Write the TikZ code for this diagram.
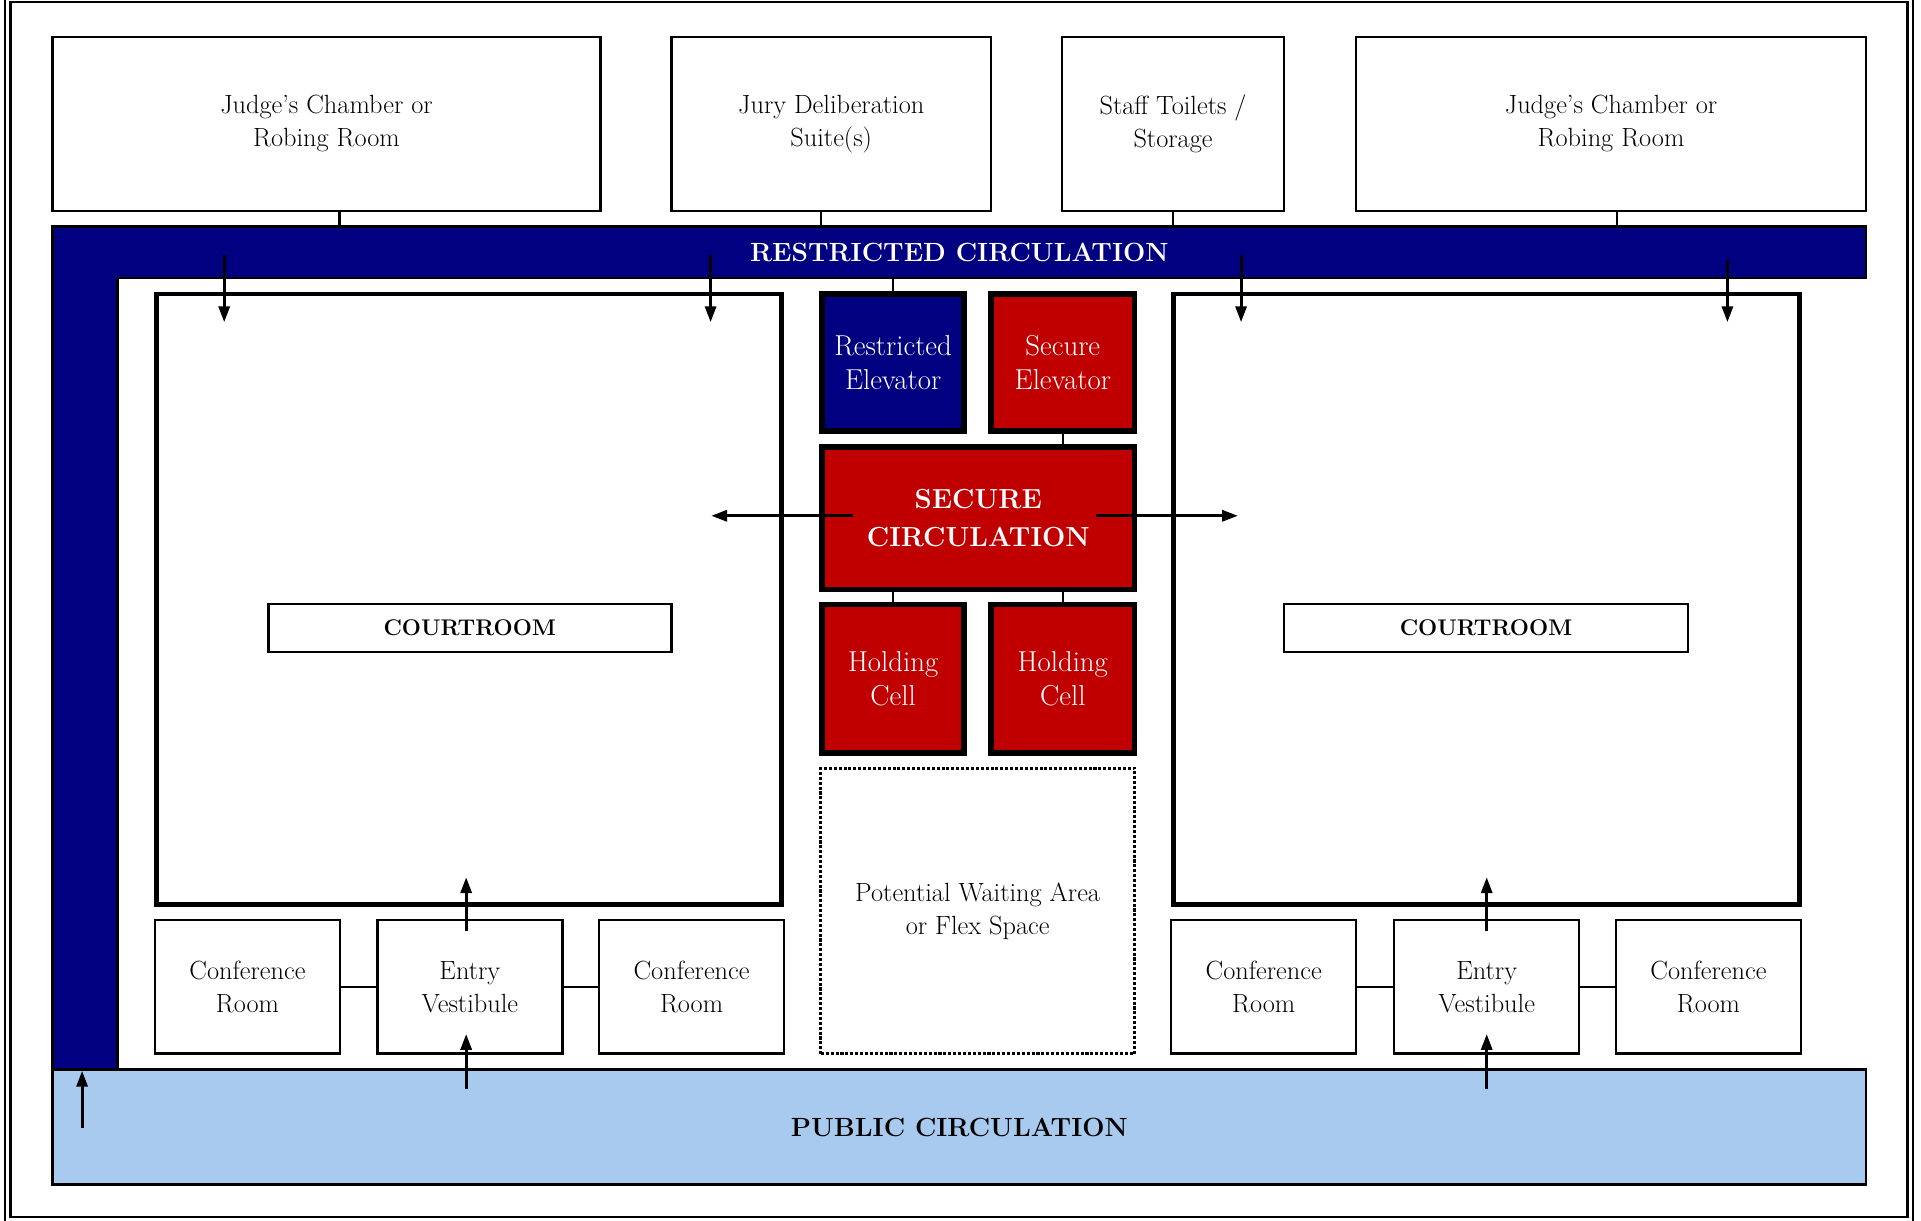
\documentclass[tikz,border=0pt]{standalone}
\usepackage{tikz}
\usetikzlibrary{arrows.meta, calc}

\definecolor{navyblue}{RGB}{0,0,128}
\definecolor{cellred}{RGB}{192,0,0}
\definecolor{publicblue}{RGB}{169,202,239}

\begin{document}
\begin{tikzpicture}[x=1pt,y=1pt,yscale=-1,
  room/.style={draw, line width=2pt, fill=white, align=center, inner sep=0pt, font=\fontsize{21.5}{27}\selectfont},
  cell/.style={draw, line width=4.5pt, align=center, inner sep=0pt, text=white, font=\fontsize{23.5}{28}\selectfont},
  court/.style={draw, line width=4pt, fill=white, inner sep=0pt},
  bar/.style={inner sep=0pt, align=center, font=\fontsize{21.5}{24}\selectfont\bfseries},
  link/.style={line width=2pt},
  flow/.style={line width=2.5pt, -{Triangle[length=13pt,width=9pt]}}]
\useasboundingbox (0,0) rectangle (1568,996);

% frame
\draw [line width=1.8pt] (4,-5) rectangle (1561.5,1001);
\draw [line width=1.8pt] (8.6,1.6) rectangle (1557,993.5);

% restricted circulation
\draw [fill=navyblue, line width=2pt] (43,185) -- (1523,185) -- (1523,227) -- (96,227) -- (96,873) -- (43,873) -- cycle;
\node [bar, text=white, minimum width=1480pt, minimum height=42pt] (restr) at (783,206) {RESTRICTED CIRCULATION};

% public circulation
\node [bar, draw, line width=2pt, fill=publicblue, minimum width=1480pt, minimum height=94pt] (public) at (783,920) {PUBLIC CIRCULATION};

% top row
\node [room, minimum width=447pt, minimum height=142pt] (judgeA) at (266.5,101) {Judge's Chamber or\\Robing Room};
\node [room, minimum width=261pt, minimum height=142pt] (jury) at (678.5,101) {Jury Deliberation\\Suite(s)};
\node [room, minimum width=181pt, minimum height=142pt] (staff) at (957.5,101) {Staff Toilets /\\Storage};
\node [room, minimum width=416pt, minimum height=142pt] (judgeB) at (1315,101) {Judge's Chamber or\\Robing Room};

\coordinate (jA) at ($(judgeA.south)+(10.5,0)$);
\coordinate (jJ) at ($(jury.south)+(-8.5,0)$);
\coordinate (jB) at ($(judgeB.south)+(5,0)$);
\draw [link] (jA) -- (jA |- restr.north);
\draw [link] (jJ) -- (jJ |- restr.north);
\draw [link] (staff.south) -- (staff.south |- restr.north);
\draw [link] (jB) -- (jB |- restr.north);

% courtrooms
\node [court, minimum width=510pt, minimum height=498pt] (courtL) at (383,489) {};
\node [court, minimum width=511pt, minimum height=498pt] (courtR) at (1213.5,489) {};
\node [room, font=\fontsize{18.5}{24}\selectfont\bfseries, minimum width=329pt, minimum height=39pt] (tagL) at (383.5,512.5) {COURTROOM};
\node [room, font=\fontsize{18.5}{24}\selectfont\bfseries, minimum width=330pt, minimum height=39pt] (tagR) at (1213,512.5) {COURTROOM};

% secure core
\node [cell, fill=navyblue, minimum width=116pt, minimum height=112pt] (relev) at (729,296) {Restricted\\Elevator};
\node [cell, fill=cellred, minimum width=117pt, minimum height=112pt] (selev) at (867.5,296) {Secure\\Elevator};
\node [cell, fill=cellred, font=\fontsize{22.5}{31}\selectfont\bfseries, minimum width=255pt, minimum height=116pt] (secure) at (798.5,423) {SECURE\\CIRCULATION};
\node [cell, fill=cellred, minimum width=116pt, minimum height=121pt] (holdA) at (729,554) {Holding\\Cell};
\node [cell, fill=cellred, minimum width=117pt, minimum height=121pt] (holdB) at (867.5,554) {Holding\\Cell};
\node [room, dash pattern=on 2.5pt off 1.5pt, line width=2.5pt, minimum width=256pt, minimum height=233pt] (waiting) at (798,743.5) {Potential Waiting Area\\or Flex Space};

\draw [link] (relev.north) -- (relev.north |- restr.south);
\draw [link] (selev.south) -- (selev.south |- secure.north);
\draw [link] (holdA.north) -- (holdA.north |- secure.south);
\draw [link] (holdB.north) -- (holdB.north |- secure.south);

% conference rows
\node [room, minimum width=151pt, minimum height=109pt] (confA) at (202,805.5) {Conference\\Room};
\node [room, minimum width=151pt, minimum height=109pt] (entryA) at (383.5,805.5) {Entry\\Vestibule};
\node [room, minimum width=151pt, minimum height=109pt] (confB) at (564.5,805.5) {Conference\\Room};
\node [room, minimum width=151pt, minimum height=109pt] (confC) at (1031.5,805.5) {Conference\\Room};
\node [room, minimum width=151pt, minimum height=109pt] (entryB) at (1213.5,805.5) {Entry\\Vestibule};
\node [room, minimum width=151pt, minimum height=109pt] (confD) at (1394.5,805.5) {Conference\\Room};

\draw [link] (confA.east) -- (entryA.west);
\draw [link] (entryA.east) -- (confB.west);
\draw [link] (confC.east) -- (entryB.west);
\draw [link] (entryB.east) -- (confD.west);

% flows
\draw [flow] ($(courtL.north)+(-200,-30)$) -- ($(courtL.north)+(-200,25)$);
\draw [flow] ($(courtL.north)+(197,-30)$) -- ($(courtL.north)+(197,25)$);
\draw [flow] ($(courtR.north)+(-200.5,-30)$) -- ($(courtR.north)+(-200.5,25)$);
\draw [flow] ($(courtR.north)+(196.5,-26)$) -- ($(courtR.north)+(196.5,25)$);

\draw [flow] ($(secure.center)+(-102,-2)$) -- ($(secure.center)+(-218,-2)$);
\draw [flow] ($(secure.center)+(96,-2)$) -- ($(secure.center)+(212,-2)$);

\draw [flow] ($(entryA.north)+(-3,10)$) -- ($(entryA.north)+(-3,-34)$);
\draw [flow] ($(entryA.south)+(-3,28)$) -- ($(entryA.south)+(-3,-17)$);
\draw [flow] ($(entryB.north)+(0,10)$) -- ($(entryB.north)+(0,-34)$);
\draw [flow] ($(entryB.south)+(0,28)$) -- ($(entryB.south)+(0,-17)$);

\draw [flow] ($(public.west)+(25,1)$) -- ($(public.north west)+(25,2)$);

\end{tikzpicture}
\end{document}
